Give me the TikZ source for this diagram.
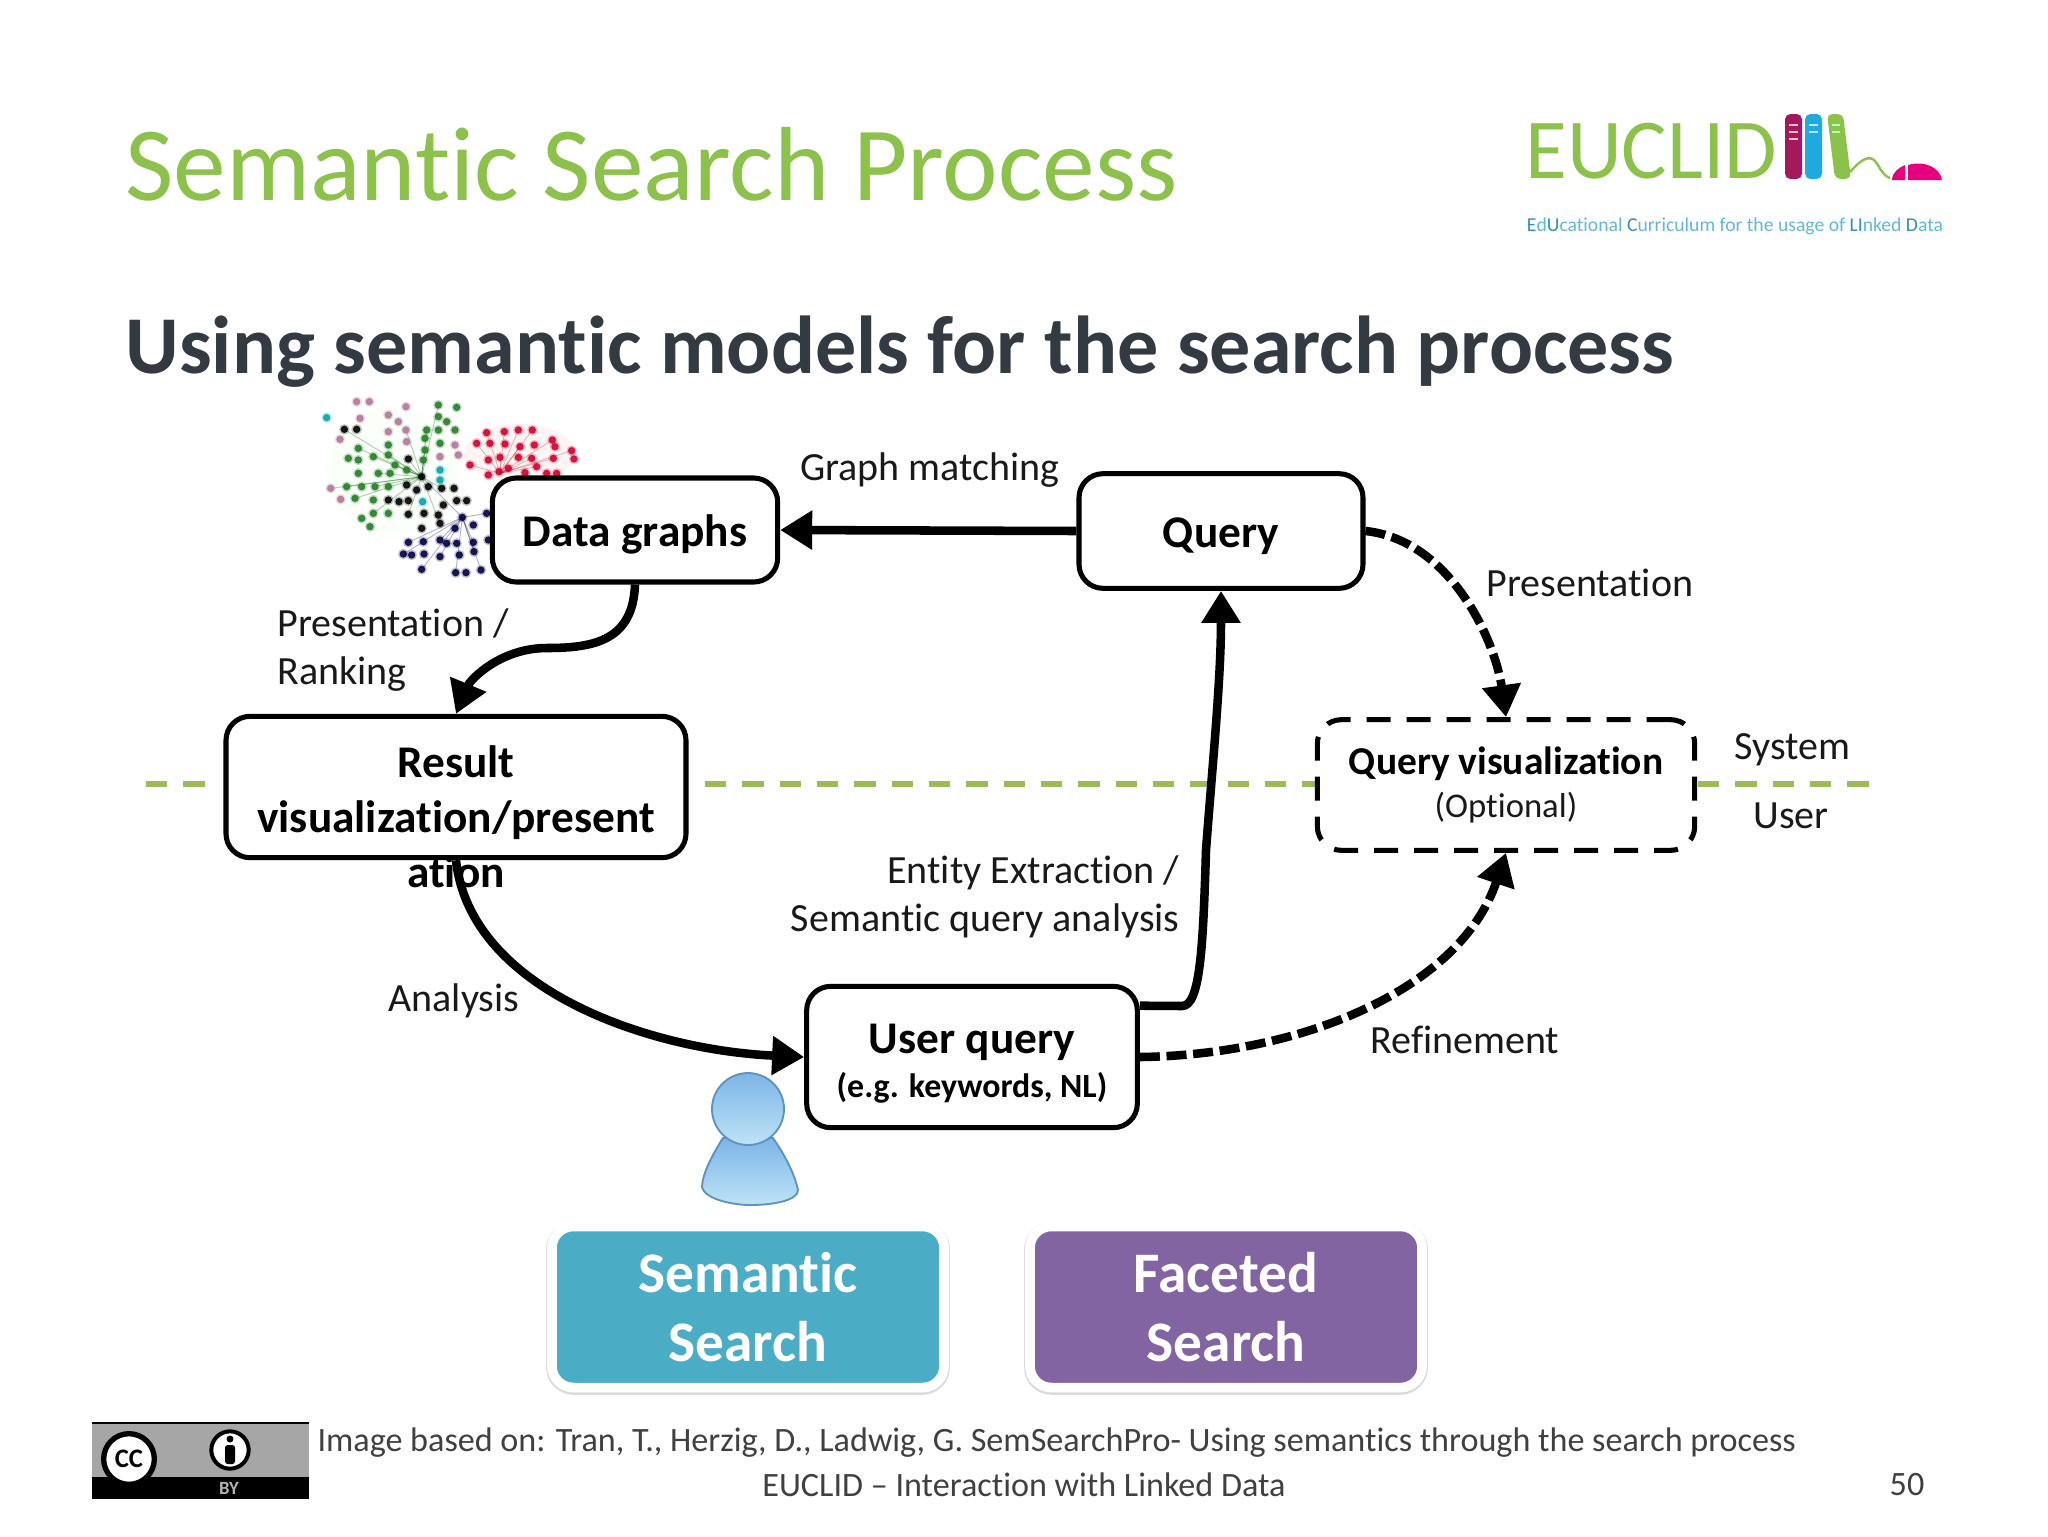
\documentclass[tikz,border=0pt]{standalone}
\usepackage{fontspec}
\setmainfont[Ligatures=CommonOff]{Carlito}
\usetikzlibrary{arrows.meta}

\definecolor{titlegreen}{HTML}{8CC14C}
\definecolor{subtitlegray}{HTML}{333A42}
\definecolor{footgray}{HTML}{404040}
\definecolor{dashgreen}{HTML}{9BBB59}
\definecolor{teal box}{HTML}{4BACC6}
\definecolor{purple box}{HTML}{8264A3}
\definecolor{logomagenta}{HTML}{A3195B}
\definecolor{logoblue}{HTML}{1EA9E1}
\definecolor{logopink}{HTML}{E6007E}
\definecolor{logotag}{HTML}{62B8D8}
\definecolor{logotagdark}{HTML}{2F8FBF}
\definecolor{personedge}{HTML}{5F93BD}
\definecolor{persontop}{HTML}{7DB5E6}
\definecolor{personmid}{HTML}{62A6E0}
\definecolor{personlow}{HTML}{BDE3F7}

\tikzset{
    flow box/.style={draw,fill=white,rounded corners=9pt,line width=1.9pt,inner sep=0pt},
    optional box/.style={flow box,dashed,dash pattern=on 9pt off 6pt},
    method box/.style={draw=white,line width=3.6pt,preaction={draw=black!14,line width=4.4pt,transform canvas={yshift=-0.5pt}},fill=#1,rounded corners=8pt,text=white,
        font=\fontsize{21.5}{26}\selectfont\bfseries,align=center,minimum width=147pt,minimum height=60.4pt},
    box text/.style={font=\fontsize{17}{20.6}\selectfont\bfseries,align=center},
    lbl/.style={font=\fontsize{15}{18}\selectfont,inner sep=0pt,text=black!90},
    foot/.style={font=\fontsize{12.8}{15}\selectfont,inner sep=0pt,text=footgray},
    thick arrow/.style={line width=3.2pt,-{Triangle[length=12pt,width=14pt]}},
    dash arrow/.style={thick arrow,dash pattern=on 7.5pt off 2.5pt},
    green dash/.style={dashgreen,line width=2pt,dash pattern=on 8pt off 6pt},
    graph dot/.style={fill=#1,draw=#1,draw opacity=0.25,line width=1.1pt,fill opacity=0.9},
}

\begin{document}
\begin{tikzpicture}[x=0.375pt,y=-0.375pt]
    \useasboundingbox (0,0) rectangle (2048,1536);

    % heading
    \node[anchor=base west,inner sep=0pt,text=titlegreen,font=\fontsize{39.5}{40}\selectfont] (title) at (125,200) {Semantic Search Process};
    \node[anchor=base west,inner sep=0pt,text=subtitlegray,font=\fontsize{30.8}{31}\selectfont\bfseries] (subtitle) at (125,373) {Using semantic models for the search process};

    % logo
    \node[anchor=base west,inner sep=0pt,text=titlegreen,font=\fontsize{32}{32}\selectfont] (logoname) at (1525,178) {EUCLID};
    \node[inner sep=0pt,text=logotag,font=\fontsize{7.37}{8}\selectfont] (logotag) at (1735,226) {\textcolor{logotagdark}{E}d\textcolor{logotagdark}{U}cational \textcolor{logotagdark}{C}urriculum for the usage of \textcolor{logotagdark}{LI}nked \textcolor{logotagdark}{D}ata};
    \fill[logomagenta,rounded corners=2pt] (1785,114) rectangle (1802,179);
    \fill[logoblue,rounded corners=2pt] (1805,114) rectangle (1822,179);
    \fill[titlegreen,rounded corners=2pt] (1827,114) -- (1843,114) -- (1851,179) -- (1835,179) -- cycle;
    \foreach \y in {125,132,139} \draw[pink,line width=0.8pt] (1789,\y) -- (1798,\y);
    \foreach \y in {125,132} \draw[cyan!30,line width=0.8pt] (1809,\y) -- (1818,\y);
    \foreach \y in {125,132} \draw[green!30,line width=0.8pt] (1832,\y) -- (1840,\y);
    \draw[titlegreen,line width=0.9pt] (1850,172) .. controls (1865,155) and (1872,155) .. (1878,165) .. controls (1884,177) and (1890,178) .. (1890,178);
    \fill[logopink] (1892,180) .. controls (1892,172) and (1900,167) .. (1905,165) -- (1905,180) -- cycle;
    \fill[logopink] (1908,180) -- (1908,165) .. controls (1925,160) and (1940,168) .. (1942,180) -- cycle;

    % data graph picture
    \begin{scope}[shift={(300,380)},x=0.125pt,y=-0.125pt]
        \fill[red!12,opacity=0.35] (660,220) ellipse (165 and 90);
        \fill[green!10,opacity=0.2] (280,270) ellipse (200 and 190);
        \foreach \x/\y in {415/75,380/150,375/210,370/240,175/205,265/225,220/230,235/280,285/255,225/320,165/355,220/400,325/237,320/315,425/325,325/403,420/430,133/148,318/150,140/320,92/325}
            \draw[green!40!black,opacity=0.3,line width=0.35pt] (365,290) -- (\x,\y);
        \foreach \x/\y in {560/158,613/155,655/150,697/150,530/190,660/200,757/180,815/212,510/255,600/232,695/235,760/235,625/265,710/260}
            \draw[red!60!black,opacity=0.25,line width=0.35pt] (600,280) -- (\x,\y);
        \foreach \x/\y in {560/400,325/487,420/480,520/487,310/522,420/530,522/515,365/568,467/578,543/570,365/290}
            \draw[blue!40!black,opacity=0.3,line width=0.35pt] (487,412) -- (\x,\y);
        \foreach \x/\y in {415/75,470/82,415/110,440/125,380/150,415/150,465/150,375/175,420/190,375/210,370/240,175/205,265/195,265/225,145/235,175/240,220/230,175/280,235/280,270/280,320/270,285/255,185/320,225/320,265/320,140/320,165/355,220/360,220/400,265/400,185/415,210/440}
            \path[graph dot=green!40!black!85] (\x,\y) circle (11);
        \foreach \x/\y in {170/65,208/65,318/80,265/105,295/125,318/150,265/155,180/115,120/178,320/185,465/195,475/225,420/230,92/325,122/358}
            \path[graph dot=magenta!35!gray] (\x,\y) circle (11);
        \foreach \x/\y in {133/148,170/148,325/237,365/290,320/315,350/330,385/320,425/325,462/325,265/360,297/365,325/362,430/375,470/362,500/362,325/403,372/400,415/405,420/430,365/445}
            \path[graph dot=black] (\x,\y) circle (11);
        \foreach \x/\y in {560/158,613/155,655/150,697/150,530/190,570/190,615/192,660/200,703/195,757/180,765/200,815/212,822/237,510/255,565/240,600/232,655/232,695/235,760/235,565/285,597/275,625/265,675/278,710/260,740/280,770/280}
            \path[graph dot=purple!70!red] (\x,\y) circle (11);
        \foreach \x/\y in {487/412,465/445,520/435,560/400,325/487,370/485,420/480,440/490,470/490,520/487,310/522,335/525,372/522,420/530,478/525,522/515,365/568,467/578,498/578,543/570,565/480}
            \path[graph dot=blue!25!black] (\x,\y) circle (11);
        \foreach \x/\y in {80/113,420/270,420/300,368/365}
            \path[graph dot=teal!70!cyan] (\x,\y) circle (11);
    \end{scope}

    % system / user line
    \coordinate (lineA) at (146,784);
    \coordinate (lineB) at (209,784);
    \coordinate (lineC) at (705,784);
    \coordinate (lineD) at (1319,784);
    \coordinate (lineE) at (1698,784);
    \coordinate (lineF) at (1878,784);
    \draw[green dash] (lineA) -- (lineB);
    \draw[green dash] (lineC) -- (lineD);
    \draw[green dash] (lineE) -- (lineF);

    % boxes
    \node[flow box,minimum width=107pt,minimum height=39pt] (data) at (635,530) {};
    \node[box text] (datatext) at (635,534) {Data graphs};
    \node[flow box,minimum width=106.5pt,minimum height=43pt] (query) at (1221,531) {};
    \node[box text] (querytext) at (1221,536) {Query};
    \node[flow box,minimum width=172.5pt,minimum height=53pt] (result) at (456,787) {};
    \node[box text] (resulttext) at (456,817) {Result\\visualization/present\\ation};
    \node[optional box,minimum width=141.5pt,minimum height=49pt] (qvis) at (1506,785) {};
    \node[box text,font=\fontsize{14.8}{15}\selectfont\bfseries] (qvistext) at (1506,764) {Query visualization};
    \node[lbl,font=\fontsize{13}{13}\selectfont] (qvisnote) at (1506,808) {(Optional)};
    \node[flow box,minimum width=124pt,minimum height=53pt] (user) at (972,1057) {};
    \node[box text] (usertext) at (972,1042) {User query};
    \node[box text,font=\fontsize{12.7}{13}\selectfont\bfseries] (usernote) at (972,1088) {(e.g. keywords, NL)};

    % connectors
    \draw[thick arrow] (query.west) -- (data.east);
    \draw[thick arrow] (data.south) .. controls (633,640) and (595,648) .. (547,648) .. controls (500,648) and (470,680) .. (result.north);
    \draw[thick arrow] (result.south) .. controls (470,990) and (650,1050) .. (user.west);
    \draw[thick arrow] (user.17) -- (1182,1006) .. controls (1200,1006) and (1203,950) .. (1206,850) .. controls (1212,770) and (1221,680) .. (query.south);
    \draw[dash arrow] (query.east) .. controls (1450,540) and (1495,640) .. (qvis.north);
    \draw[dash arrow] (user.east) .. controls (1300,1055) and (1460,990) .. (qvis.south);

    % labels
    \node[lbl] (graphmatching) at (930,470) {Graph matching};
    \node[lbl,anchor=west,align=left] (ranking) at (277,650) {Presentation /\\Ranking};
    \node[lbl,anchor=west] (presentation) at (1486,583) {Presentation};
    \node[lbl,anchor=west] (system) at (1734,750) {System};
    \node[lbl,anchor=west] (userlabel) at (1753,816) {User};
    \node[lbl,anchor=east,align=right] (entity) at (1180,897) {Entity Extraction /\\Semantic query analysis};
    \node[lbl,anchor=west] (analysis) at (388,1001) {Analysis};
    \node[lbl,anchor=west] (refinement) at (1370,1040) {Refinement};

    % person
    \shade[top color=persontop,middle color=personmid,bottom color=personlow,draw=personedge,line width=0.7pt] (723,1138) .. controls (712,1155) and (702,1175) .. (702,1187) .. controls (705,1200) and (735,1205) .. (750,1205) .. controls (775,1205) and (798,1200) .. (798,1190) .. controls (795,1175) and (785,1155) .. (773,1138) -- cycle;
    \shade[top color=persontop,middle color=personmid,bottom color=personlow,draw=personedge,line width=0.7pt] (748,1109) circle (36);

    % method boxes
    \node[method box=teal box] (semantic) at (748,1307) {Semantic\\Search};
    \node[method box=purple box] (faceted) at (1226,1307) {Faceted\\Search};

    % licence badge
    \fill[black!35] (92,1423) rectangle (309,1478);
    \fill[black] (92,1477) rectangle (309,1499);
    \draw[black,line width=0.8pt] (92,1423) -- (309,1423);
    \node[circle,draw=black,fill=white,line width=2pt,minimum size=19pt,inner sep=0pt,font=\fontsize{10}{10}\selectfont\bfseries] (ccmark) at (129,1459) {CC};
    \node[circle,draw=black,fill=white,line width=1.5pt,minimum size=14pt,inner sep=0pt] (bymark) at (230,1450) {};
    \fill[black] (230,1439) circle (3.5);
    \fill[black,rounded corners=1pt] (225,1445) rectangle (235,1464);
    \node[inner sep=0pt,text=black!30,font=\fontsize{7}{7}\selectfont\bfseries] (bytext) at (229,1488) {BY};

    % footer
    \node[foot,anchor=west] (source) at (317,1443) {Image based on: Tran, T., Herzig, D., Ladwig, G. SemSearchPro- Using semantics through the search process};
    \node[foot] (course) at (1024,1485) {EUCLID – Interaction with Linked Data};
    \node[foot] (pagenum) at (1907,1485) {50};
\end{tikzpicture}
\end{document}
